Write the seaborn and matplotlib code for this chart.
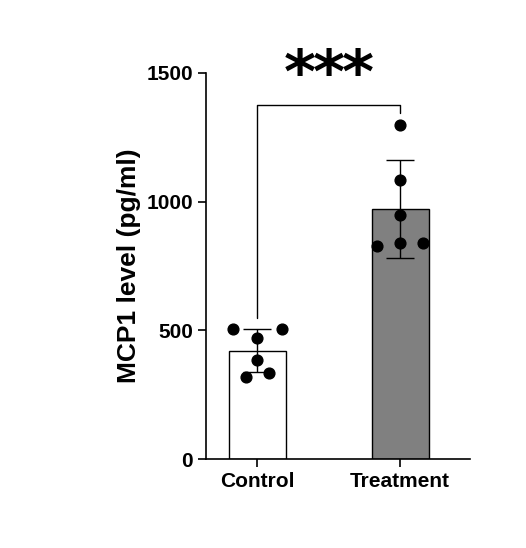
import matplotlib
matplotlib.use("Agg")
import matplotlib.pyplot as plt
import seaborn as sns
import pandas as pd
import numpy as np

groups = ["Control", "Treatment"]
means = [422, 972]
sds = [85, 190]
control_pts = [505, 505, 470, 385, 319, 334]
treatment_pts = [1298, 1084, 948, 828, 839, 839]
control_x = [-0.17, 0.17, 0.0, 0.0, -0.08, 0.08]
treatment_x = [0.0, 0.0, 0.0, -0.16, 0.16, 0.0]

sns.set_style("ticks")
plt.rcParams['font.family'] = ['Liberation Sans', 'DejaVu Sans']
for k in ["text.color", "axes.labelcolor", "xtick.color", "ytick.color", "axes.edgecolor"]:
    plt.rcParams[k] = "black"

fig = plt.figure(figsize=(5.26, 5.48), dpi=100)
ax = fig.add_axes([0.392, 0.162, 0.502, 0.705])

df = pd.DataFrame({"group": groups, "mean": means})
sns.barplot(data=df, x="group", y="mean", hue="group", palette=["white", "#808080"],
            edgecolor="black", linewidth=1, width=0.4, ax=ax, legend=False)
ax.errorbar([0, 1], means, yerr=sds, fmt="none", ecolor="black", elinewidth=1, capsize=10, capthick=1)
xs = np.array(control_x + [1 + v for v in treatment_x])
ys = control_pts + treatment_pts
ax.scatter(xs, ys, s=60, color="black", zorder=5)

ax.plot([0, 0, 1, 1], [548, 1375, 1375, 1345], color="black", lw=1)
for dx in [-0.2, 0.0, 0.2]:
    ax.text(0.5 + dx, 1370, "*", ha="center", va="bottom", fontsize=44, fontweight="bold",
            family="DejaVu Sans")

ax.set_xlim(-0.357, 1.49)
ax.set_ylim(0, 1500)
ax.set_yticks([0, 500, 1000, 1500])
ax.set_xlabel("")
ax.set_ylabel("MCP1 level (pg/ml)", fontsize=19, fontweight="bold")
for lab in ax.get_xticklabels() + ax.get_yticklabels():
    lab.set_fontweight("bold")
    lab.set_fontsize(15)
ax.tick_params(width=1.2, length=6)
for s in ["left", "bottom"]:
    ax.spines[s].set_linewidth(1.2)
sns.despine(ax=ax)
fig.savefig("out.png", dpi=100)
